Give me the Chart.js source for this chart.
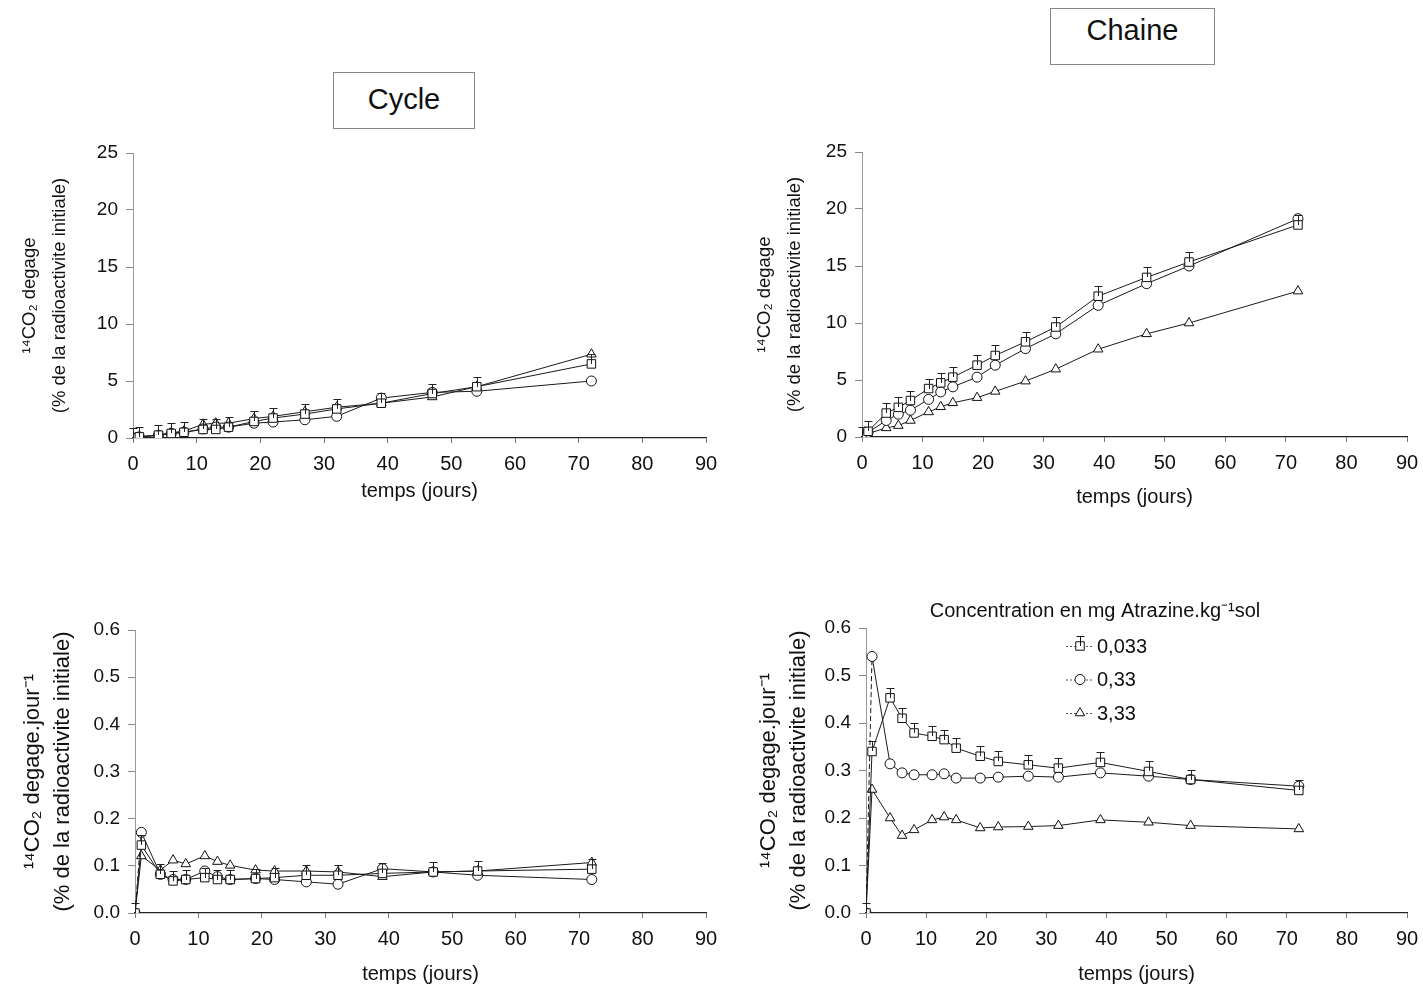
<!DOCTYPE html>
<html lang="fr">
<head>
<meta charset="utf-8">
<script src="https://cdn.jsdelivr.net/npm/chart.js@4.4.1/dist/chart.umd.min.js"></script>
<style>
body { margin:0; background:#fff; font-family:"Liberation Sans", Arial, sans-serif; }
#page { position:relative; width:1423px; height:1000px; overflow:hidden; background:#fff; }
canvas { position:absolute; }
.titre { position:absolute; border:1px solid #888; text-align:center; font-size:29px; color:#111; box-sizing:border-box; background:#fff; }
</style>
</head>
<body>
<div id="page">
  <div class="titre" style="left:333px;top:72px;width:142px;height:57px;line-height:52px;">Cycle</div>
  <div class="titre" style="left:1050px;top:8px;width:165px;height:57px;line-height:42px;">Chaine</div>
  <canvas id="cycleCumul" style="left:0;top:133px" width="727" height="370"></canvas>
  <canvas id="chaineCumul" style="left:735px;top:132px" width="693" height="377"></canvas>
  <canvas id="cycleJour" style="left:0;top:610px" width="727" height="376"></canvas>
  <canvas id="chaineJour" style="left:738px;top:590px" width="690" height="396"></canvas>
</div>
<script>
// jours de prelevement
const jours = [0, 1, 4, 6, 8, 11, 13, 15, 19, 22, 27, 32, 39, 47, 54, 72];
const concentrations = ['0,033', '0,33', '3,33'];

// 14CO2 cumule - cycle
const cycleCumul033 = [0, 0.1, 0.25, 0.4, 0.5, 0.75, 0.75, 0.95, 1.45, 1.75, 2.1, 2.55, 3.05, 3.9, 4.5, 6.5];
const cycleCumul33 = [0, 0.1, 0.25, 0.4, 0.5, 0.8, 0.95, 0.95, 1.3, 1.4, 1.6, 1.9, 3.5, 4.0, 4.1, 5.0];
const cycleCumul333 = [0, 0.1, 0.25, 0.45, 0.6, 1.2, 1.3, 1.3, 1.7, 1.9, 2.3, 2.7, 3.05, 3.6, 4.5, 7.35];

// 14CO2 cumule - chaine
const chaineCumul033 = [0, 0.5, 2.1, 2.6, 3.2, 4.25, 4.75, 5.25, 6.3, 7.15, 8.35, 9.65, 12.35, 14.0, 15.35, 18.6];
const chaineCumul33 = [0, 0.4, 1.45, 2.0, 2.35, 3.3, 3.95, 4.4, 5.25, 6.3, 7.75, 9.05, 11.55, 13.45, 15.0, 19.15];
const chaineCumul333 = [0, 0.3, 0.8, 1.0, 1.45, 2.2, 2.65, 3.0, 3.45, 4.0, 4.9, 5.95, 7.7, 9.05, 10.0, 12.8];

// 14CO2 par jour - cycle
const cycleJour033 = [0, 0.144, 0.082, 0.068, 0.071, 0.075, 0.071, 0.071, 0.073, 0.075, 0.08, 0.08, 0.084, 0.087, 0.089, 0.093];
const cycleJour33 = [0, 0.171, 0.082, 0.071, 0.071, 0.089, 0.077, 0.071, 0.073, 0.071, 0.066, 0.061, 0.094, 0.087, 0.08, 0.071];
const cycleJour333 = [0, 0.121, 0.091, 0.112, 0.104, 0.121, 0.109, 0.101, 0.091, 0.089, 0.089, 0.087, 0.077, 0.087, 0.089, 0.107];

// 14CO2 par jour - chaine
const chaineJour033 = [0, 0.34, 0.453, 0.41, 0.379, 0.372, 0.365, 0.347, 0.33, 0.319, 0.312, 0.305, 0.317, 0.298, 0.281, 0.258];
const chaineJour33 = [0, 0.54, 0.314, 0.295, 0.291, 0.291, 0.293, 0.284, 0.284, 0.286, 0.288, 0.286, 0.295, 0.288, 0.281, 0.267];
const chaineJour333 = [0, 0.26, 0.2, 0.163, 0.175, 0.196, 0.202, 0.196, 0.179, 0.181, 0.182, 0.184, 0.196, 0.191, 0.184, 0.177];

const titreCumul = ['\u00b9\u2074CO\u2082 degage', '(% de la radioactivite initiale)'];
const titreJour = ['\u00b9\u2074CO\u2082 degage.jour\u207b\u00b9', '(% de la radioactivite initiale)'];
const titreLegende = 'Concentration en mg Atrazine.kg\u207b\u00b9sol';

const police = '"Liberation Sans", Arial, sans-serif';
Chart.defaults.font.family = police;
Chart.defaults.color = '#111';

const formes = ['rect', 'circle', 'triangle'];
const rayons = [6, 5, 5.5];

function series(valeurs, pointille) {
  return valeurs.map((v, i) => ({
    label: concentrations[i],
    data: jours.map((j, k) => ({ x: j, y: v[k] })),
    borderColor: '#1a1a1a',
    borderWidth: 1,
    pointStyle: formes[i],
    pointRadius: rayons[i],
    pointBorderColor: '#111',
    pointBackgroundColor: '#fff',
    pointBorderWidth: 1,
    barre: i === 0,
    segment: (pointille && i === 1) ? { borderDash: c => c.p0DataIndex === 0 ? [5, 3] : undefined } : undefined
  }));
}

// petite barre d'erreur au-dessus des carres
const barreErreur = {
  id: 'barreErreur',
  afterDatasetsDraw(chart) {
    const g = chart.ctx;
    g.save();
    g.strokeStyle = '#222';
    g.lineWidth = 1;
    chart.data.datasets.forEach((ds, i) => {
      if (!ds.barre) return;
      chart.getDatasetMeta(i).data.forEach(p => {
        const x = Math.round(p.x) + 0.5, y = Math.round(p.y);
        g.beginPath();
        g.moveTo(x, y); g.lineTo(x, y - 9.5);
        g.moveTo(x - 4, y - 9.5); g.lineTo(x + 4, y - 9.5);
        g.stroke();
      });
    });
    g.restore();
  }
};

function axeX(hauteur) {
  return {
    type: 'linear', min: 0, max: 90,
    ticks: { stepSize: 10, font: { size: 20 }, padding: 9, color: '#111' },
    grid: { drawOnChartArea: false, tickLength: 5, color: '#777' },
    border: { color: '#222', width: 1.3 },
    title: { display: true, text: 'temps (jours)', font: { size: 20 }, padding: 0, color: '#111' },
    afterFit: s => { s.height = hauteur; }
  };
}

function axeY(largeur, max, pas, dec, titre, taille, pad) {
  return {
    min: 0, max: max,
    ticks: { stepSize: pas, font: { size: 19 }, padding: 8, color: '#111', callback: v => v.toFixed(dec) },
    grid: { drawOnChartArea: false, tickLength: 7, color: '#888' },
    border: { color: '#999', width: 1, dash: [2, 2] },
    title: { display: true, text: titre, font: { size: taille, lineHeight: 30 / taille }, padding: { top: pad }, color: '#111' },
    afterFit: s => { s.width = largeur; }
  };
}

const legende = {
  id: 'legende',
  afterDraw(chart) {
    const g = chart.ctx;
    g.save();
    g.font = '20px ' + police;
    g.fillStyle = '#111';
    g.textBaseline = 'middle';
    g.textAlign = 'center';
    g.fillText(titreLegende, 357, 21);
    g.textAlign = 'left';
    chart.data.datasets.forEach((ds, i) => {
      const y = 56 + i * 33.5;
      g.strokeStyle = '#555'; g.lineWidth = 1;
      g.setLineDash([2, 2]);
      g.beginPath(); g.moveTo(328, y + 0.5); g.lineTo(356, y + 0.5); g.stroke();
      g.setLineDash([]);
      g.strokeStyle = '#111'; g.fillStyle = '#fff';
      Chart.helpers.drawPoint(g, { pointStyle: ds.pointStyle, radius: ds.pointRadius, borderWidth: 1, rotation: 0 }, 342, y);
      if (ds.barre) {
        g.beginPath(); g.moveTo(342.5, y); g.lineTo(342.5, y - 9.5); g.moveTo(338.5, y - 9.5); g.lineTo(346.5, y - 9.5); g.stroke();
      }
      g.fillStyle = '#111';
      g.fillText(ds.label, 359, y + 1);
    });
    g.restore();
  }
};

function graphique(id, datasets, opts, plugins) {
  return new Chart(document.getElementById(id), {
    type: 'line',
    data: { datasets: datasets },
    options: {
      responsive: false,
      animation: false,
      devicePixelRatio: 1,
      layout: { padding: { top: opts.haut, right: 21, left: 0, bottom: 0 } },
      plugins: { legend: { display: false }, tooltip: { enabled: false } },
      scales: { x: axeX(opts.hx), y: axeY(opts.ly, opts.max, opts.pas, opts.dec, opts.titre, opts.taille, opts.pad) }
    },
    plugins: [barreErreur].concat(plugins || [])
  });
}

graphique('cycleCumul', series([cycleCumul033, cycleCumul33, cycleCumul333], false),
  { haut: 20, hx: 65, ly: 133, max: 25, pas: 5, dec: 0, titre: titreCumul, taille: 18.5, pad: 15 });
graphique('chaineCumul', series([chaineCumul033, chaineCumul33, chaineCumul333], false),
  { haut: 20, hx: 72, ly: 127, max: 25, pas: 5, dec: 0, titre: titreCumul, taille: 18.5, pad: 15 });
graphique('cycleJour', series([cycleJour033, cycleJour33, cycleJour333], true),
  { haut: 20, hx: 73, ly: 135, max: 0.6, pas: 0.1, dec: 1, titre: titreJour, taille: 22, pad: 18 });
graphique('chaineJour', series([chaineJour033, chaineJour33, chaineJour333], true),
  { haut: 38, hx: 73, ly: 128, max: 0.6, pas: 0.1, dec: 1, titre: titreJour, taille: 22, pad: 16 }, [legende]);
</script>
</body>
</html>
